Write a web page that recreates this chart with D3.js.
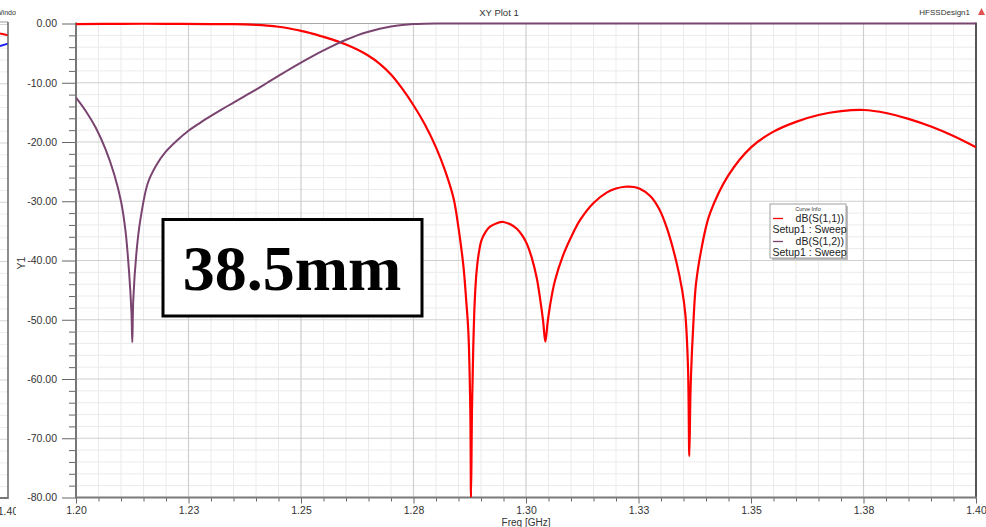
<!DOCTYPE html>
<html>
<head>
<meta charset="utf-8">
<script src="https://cdn.jsdelivr.net/npm/d3@7/dist/d3.min.js"></script>
<style>
  html, body { margin: 0; padding: 0; background: #fff; }
  svg { display: block; }
</style>
</head>
<body>
<svg id="chart" width="986" height="527"></svg>
<script>
// ---- data -------------------------------------------------------------
// dB(S(1,1)) : frequency [GHz] and magnitude [dB]
const s11Freq = [1.2000, 1.2100, 1.2200, 1.2300, 1.2350, 1.2375, 1.2400, 1.2425, 1.2450, 1.2475,
  1.2500, 1.2525, 1.2550, 1.2575, 1.2600, 1.2625, 1.2650, 1.2675, 1.2700, 1.2725,
  1.2750, 1.2775, 1.2800, 1.2820, 1.2839, 1.2850, 1.2861, 1.2867, 1.2872, 1.28762,
  1.28778, 1.28800, 1.28827, 1.2886, 1.2890, 1.2895, 1.2901, 1.2910, 1.2920, 1.2935,
  1.2950, 1.2965, 1.2979, 1.2992, 1.3002, 1.3013, 1.3024, 1.3032, 1.3038, 1.3043,
  1.3048, 1.3053, 1.3064, 1.3083, 1.3105, 1.3120, 1.3150, 1.3180, 1.3200, 1.3220,
  1.3240, 1.3253, 1.3276, 1.3296, 1.3313, 1.3335, 1.3347, 1.3354, 1.3360, 1.33629,
  1.33656, 1.3369, 1.3373, 1.3377, 1.3383, 1.3388, 1.3398, 1.3409, 1.3450, 1.3500,
  1.3550, 1.3600, 1.3650, 1.3700, 1.3750, 1.3800, 1.3850, 1.3900, 1.3950, 1.4000];
const s11Db = [-0.1, -0.05, -0.05, -0.1, -0.12, -0.15, -0.22, -0.35, -0.55, -0.85,
  -1.25, -1.7, -2.25, -2.85, -3.55, -4.4, -5.45, -6.8, -8.6, -11.0,
  -13.8, -17.0, -20.9, -24.8, -29.5, -34.5, -41.0, -46.6, -52.2, -65.0,
  -80.0, -65.0, -55.0, -47.0, -42.0, -38.8, -36.6, -35.2, -34.3, -33.7,
  -33.5, -33.9, -34.6, -35.8, -37.2, -39.6, -43.0, -46.8, -50.2, -53.7,
  -50.5, -47.8, -43.5, -39.0, -35.3, -33.2, -30.3, -28.5, -27.85, -27.55,
  -27.6, -27.9, -29.1, -31.3, -34.5, -40.5, -45.0, -49.0, -58.0, -73.0,
  -62.0, -55.0, -49.0, -44.5, -41.0, -38.8, -35.0, -32.0, -25.6, -20.9,
  -18.25, -16.6, -15.45, -14.8, -14.6, -15.1, -16.1, -17.4, -19.0, -20.9];

// dB(S(1,2)) : frequency [GHz] and magnitude [dB]
const s12Freq = [1.2000, 1.2022, 1.2044, 1.2066, 1.2085, 1.2100, 1.2110, 1.2118, 1.21233, 1.21251,
  1.21273, 1.21349, 1.21429, 1.21593, 1.21778, 1.2200, 1.2225, 1.2250, 1.2275, 1.2300,
  1.2325, 1.2350, 1.2375, 1.2400, 1.2425, 1.2450, 1.2475, 1.2500, 1.2525, 1.2550,
  1.2575, 1.2600, 1.2625, 1.2650, 1.2675, 1.2700, 1.2725, 1.2750, 1.2775, 1.2800,
  1.3000, 1.3500, 1.4000];
const s12Db = [-12.5, -14.8, -17.6, -21.3, -25.5, -30.0, -35.0, -42.0, -48.9, -53.8,
  -46.6, -38.2, -33.2, -27.0, -24.0, -21.6, -19.7, -18.1, -16.8, -15.6,
  -14.45, -13.35, -12.25, -11.15, -10.0, -8.85, -7.7, -6.6, -5.55, -4.55,
  -3.6, -2.75, -2.0, -1.4, -0.9, -0.5, -0.25, -0.1, -0.04, -0.02,
  -0.02, -0.02, -0.02];

// axis ticks
const xTickValues = [1.200, 1.225, 1.250, 1.275, 1.300, 1.325, 1.350, 1.375, 1.400];
const xTickLabels = ["1.20", "1.23", "1.25", "1.28", "1.30", "1.33", "1.35", "1.38", "1.40"];
const yTickValues = [0, -10, -20, -30, -40, -50, -60, -70, -80];
const yTickLabels = ["0.00", "-10.00", "-20.00", "-30.00", "-40.00", "-50.00", "-60.00", "-70.00", "-80.00"];

// legend entries
const legendNames = ["dB(S(1,1))", "dB(S(1,2))"];
const legendSetup = ["Setup1 : Sweep", "Setup1 : Sweep"];
const seriesColors = ["#ff0000", "#7a4470"];

// neighbouring window fragment on the left edge
const sideRed = [-1.7, -2.0];
const sideBlue = [-3.8, -3.4];

// ---- layout -----------------------------------------------------------
const SANS = "'Liberation Sans', Arial, sans-serif";
const svg = d3.select("#chart");
const L = 76, R = 976, T = 23.5, B = 497.5;

const x = d3.scaleLinear().domain([1.2, 1.4]).range([L, R]);
const y = d3.scaleLinear().domain([-80, 0]).range([B, T]);

const minorX = d3.range(1.205, 1.4, 0.005).filter(v => Math.abs(v / 0.025 - Math.round(v / 0.025)) > 1e-6);
const minorY = d3.range(-78, 0, 2).filter(v => v % 10 !== 0);

function label(sel, size, fill) {
  return sel.style("font-family", SANS).style("font-size", size + "px").attr("fill", fill || "#333");
}

// ---- left fragment of another plot window ----------------------------
const side = svg.append("g");
side.append("clipPath").attr("id", "sideClip")
  .append("rect").attr("x", 0).attr("y", 0).attr("width", 16).attr("height", 527);
const sideG = side.append("g").attr("clip-path", "url(#sideClip)");
sideG.selectAll("line.sg").data(d3.range(-78, 1, 2)).join("line")
  .attr("x1", 0).attr("x2", 8)
  .attr("y1", d => y(d) + 1).attr("y2", d => y(d) + 1)
  .attr("stroke", d => d % 10 === 0 ? "#d4d4d4" : "#ededed").attr("stroke-width", 1);
const sideX = d3.scaleLinear().domain([0, 1]).range([0, 8]);
const sideLine = d3.line().x((d, i) => sideX(i)).y(d => y(d));
sideG.append("path").datum(sideRed).attr("d", sideLine)
  .attr("fill", "none").attr("stroke", "#ff0000").attr("stroke-width", 2);
sideG.append("path").datum(sideBlue).attr("d", sideLine)
  .attr("fill", "none").attr("stroke", "#1a1aff").attr("stroke-width", 2);
sideG.append("line").attr("x1", 0).attr("x2", 8).attr("y1", 22).attr("y2", 22)
  .attr("stroke", "#999").attr("stroke-width", 1);
sideG.append("line").attr("x1", 8).attr("x2", 8).attr("y1", 22).attr("y2", 499)
  .attr("stroke", "#666").attr("stroke-width", 1.5);
sideG.append("line").attr("x1", 0).attr("x2", 8).attr("y1", 498).attr("y2", 498)
  .attr("stroke", "#777").attr("stroke-width", 2);
label(sideG.append("text").attr("x", -4).attr("y", 15), 7).text("Window");
label(sideG.append("text").attr("x", 8).attr("y", 515).attr("text-anchor", "middle"), 10.5).text("1.40");

// ---- grid -------------------------------------------------------------
const grid = svg.append("g");
grid.selectAll("line.mx").data(minorX).join("line")
  .attr("x1", d => x(d)).attr("x2", d => x(d)).attr("y1", T).attr("y2", B)
  .attr("stroke", "#ebebeb").attr("stroke-width", 1);
grid.selectAll("line.my").data(minorY).join("line")
  .attr("y1", d => y(d)).attr("y2", d => y(d)).attr("x1", L).attr("x2", R)
  .attr("stroke", "#ebebeb").attr("stroke-width", 1);
grid.selectAll("line.Mx").data(xTickValues.slice(1, -1)).join("line")
  .attr("x1", d => x(d)).attr("x2", d => x(d)).attr("y1", T).attr("y2", B)
  .attr("stroke", "#cfcfcf").attr("stroke-width", 1.2);
grid.selectAll("line.My").data(yTickValues.slice(1, -1)).join("line")
  .attr("y1", d => y(d)).attr("y2", d => y(d)).attr("x1", L).attr("x2", R)
  .attr("stroke", "#cfcfcf").attr("stroke-width", 1.2);

// ---- frame ------------------------------------------------------------
svg.append("line").attr("x1", L).attr("x2", R).attr("y1", T).attr("y2", T)
  .attr("stroke", "#aaa").attr("stroke-width", 1);
svg.append("line").attr("x1", R).attr("x2", R).attr("y1", T - 1).attr("y2", B + 1)
  .attr("stroke", "#555").attr("stroke-width", 2);

// ---- axes -------------------------------------------------------------
const xAxis = svg.append("g").attr("transform", `translate(0,${B})`)
  .call(d3.axisBottom(x).tickValues(xTickValues).tickSize(6).tickPadding(3)
    .tickFormat((d, i) => xTickLabels[i]));
const xMinor = svg.append("g").attr("transform", `translate(0,${B})`)
  .call(d3.axisBottom(x).tickValues(minorX).tickSize(4).tickFormat(""));
const yAxis = svg.append("g").attr("transform", `translate(${L},0)`)
  .call(d3.axisLeft(y).tickValues(yTickValues).tickSize(14).tickPadding(5)
    .tickFormat((d, i) => yTickLabels[i]));
const yMinor = svg.append("g").attr("transform", `translate(${L},0)`)
  .call(d3.axisLeft(y).tickValues(minorY).tickSize(7).tickFormat(""));

[xAxis, xMinor, yAxis, yMinor].forEach(g => {
  g.selectAll(".domain").remove();
  g.selectAll(".tick line").attr("stroke", "#666").attr("stroke-width", 1);
  label(g.selectAll(".tick text"), 10.5);
});

svg.append("line").attr("x1", L).attr("x2", R + 1).attr("y1", B).attr("y2", B)
  .attr("stroke", "#7a7a7a").attr("stroke-width", 2);
svg.append("line").attr("x1", L).attr("x2", L).attr("y1", T - 1).attr("y2", B + 1)
  .attr("stroke", "#777").attr("stroke-width", 2);

// axis titles
label(svg.append("text").attr("x", x(1.3)).attr("y", 525.5).attr("text-anchor", "middle"), 10)
  .text("Freq [GHz]");
label(svg.append("text").attr("transform", "translate(25,263) rotate(-90)")
  .attr("text-anchor", "middle"), 10.5).text("Y1");

// window titles
label(svg.append("text").attr("x", 499).attr("y", 16).attr("text-anchor", "middle"), 9.5).text("XY Plot 1");
label(svg.append("text").attr("x", 970).attr("y", 15).attr("text-anchor", "end"), 8).text("HFSSDesign1");
svg.append("path").attr("d", "M978,15 L981.5,8 L985,15 Z").attr("fill", "#e05050");

// ---- curves -----------------------------------------------------------
svg.append("clipPath").attr("id", "plotClip")
  .append("rect").attr("x", L).attr("y", T - 2).attr("width", R - L).attr("height", B - T + 2);

const line = d3.line().x(d => x(d[0])).y(d => y(d[1])).curve(d3.curveCatmullRom.alpha(0.5));
const curves = svg.append("g").attr("clip-path", "url(#plotClip)");
curves.append("path").datum(d3.zip(s11Freq, s11Db)).attr("d", line)
  .attr("fill", "none").attr("stroke", seriesColors[0]).attr("stroke-width", 2.2)
  .attr("stroke-linejoin", "round");
curves.append("path").datum(d3.zip(s12Freq, s12Db)).attr("d", line)
  .attr("fill", "none").attr("stroke", seriesColors[1]).attr("stroke-width", 2)
  .attr("stroke-linejoin", "round");

// ---- legend -----------------------------------------------------------
const lg = svg.append("g").attr("transform", "translate(770,204)");
lg.append("rect").attr("x", 2).attr("y", 2).attr("width", 76).attr("height", 54).attr("fill", "#bdbdbd");
lg.append("rect").attr("x", 0).attr("y", 0).attr("width", 76).attr("height", 54)
  .attr("fill", "#fff").attr("stroke", "#a0a0a0").attr("stroke-width", 1);
label(lg.append("text").attr("x", 38).attr("y", 6.5).attr("text-anchor", "middle"), 5.5).text("Curve Info");
legendNames.forEach((name, i) => {
  const yy = 14.5 + i * 23;
  lg.append("line").attr("x1", 3).attr("x2", 13).attr("y1", yy).attr("y2", yy)
    .attr("stroke", seriesColors[i]).attr("stroke-width", 1.3);
  label(lg.append("text").attr("x", 74).attr("y", yy + 3.5).attr("text-anchor", "end"), 10.5, "#222").text(name);
  label(lg.append("text").attr("x", 2.5).attr("y", yy + 14.5), 10.5, "#222").text(legendSetup[i]);
});

// ---- annotation -------------------------------------------------------
svg.append("rect").attr("x", 163).attr("y", 219.5).attr("width", 259).attr("height", 96.5)
  .attr("fill", "#fff").attr("stroke", "#000").attr("stroke-width", 3);
svg.append("text").attr("x", 292).attr("y", 290).attr("text-anchor", "middle")
  .style("font-family", "'Liberation Serif', 'Times New Roman', serif")
  .style("font-weight", "bold").style("font-size", "64px").attr("fill", "#000").text("38.5mm");
</script>
</body>
</html>
